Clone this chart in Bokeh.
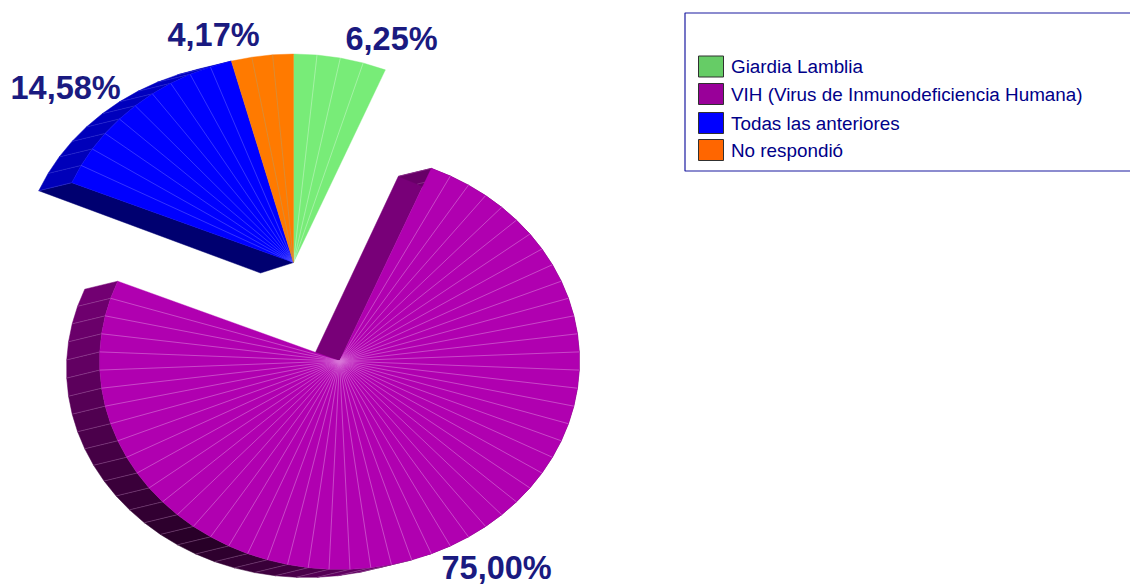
import numpy as np
from bokeh.plotting import figure
from bokeh.models import Range1d
from bokeh.core.properties import value
from bokeh.embed import file_html
from bokeh.resources import INLINE

# ---- data ----
categories = ["Giardia Lamblia", "VIH (Virus de Inmunodeficiencia Humana)", "Todas las anteriores", "No respondió"]
percentages = [6.25, 75.00, 14.58, 4.17]
percent_labels = ["6,25%", "75,00%", "14,58%", "4,17%"]

# ---- style / layout ----
W, H = 1130, 586
top_colors = ["#78ec78", "#b000b0", "#0000ff", "#ff7a00"]
legend_colors = ["#66cc66", "#990099", "#0000ff", "#ff6600"]
line_colors = ["#c4f6c4", "#d878d8", "#5858ff", "#c09858"]
wedge_wall = ["#50a050", "#780078", "#000070", "#b05000"]
wall_base = [(120, 236, 120), (176, 0, 176), (0, 0, 280), (255, 122, 0)]
rim_line = ["#ffffff", "#c080c0", "#5050e0", "#ffffff"]
slice_counts = [4, 54, 10, 3]
exploded = [True, False, True, True]
has_wall = [False, True, True, False]
label_pos = [(345, 38), (441, 567), (10, 87), (167, 34)]
RX, RY = 240.0, 208.5
DX, DY = -33.0, 8.0
APEX_DY = 10.5
C_EXPLODED = (293.0, 262.0)
C_MAIN = (339.0, 360.5)
shade_deg = [0, 175, 190, 212, 240, 270, 292.5, 360]
shade_fac = [.60, .55, .36, .22, .36, .56, .66, .70]

p = figure(width=W, height=H, output_backend="svg", toolbar_location=None,
           x_range=Range1d(0, W), y_range=Range1d(H, 0),
           min_border=0, outline_line_color=None, background_fill_color="white",
           border_fill_color="white")
p.axis.visible = False
p.grid.visible = False


def rim(c, deg):
    t = np.radians(deg)
    return c[0] + RX * np.sin(t), c[1] - RY * np.cos(t)


start = 0.0
wedges = []
for pct, n, ex, wallon, top, line, wall, base, rl in zip(percentages, slice_counts, exploded, has_wall,
                                                        top_colors, line_colors, wedge_wall, wall_base, rim_line):
    end = start + pct * 3.6
    wedges.append((start, end, n, C_EXPLODED if ex else C_MAIN, wallon, top, line, wall, base, rl))
    start = end

# walls first: back face of the wedge cut, then the outer rim
for s, e, n, c, wallon, top, line, wall, base, rl in wedges:
    if not wallon:
        continue
    ex_, ey_ = rim(c, s)
    p.patch([c[0], ex_, ex_ + DX, c[0] + DX], [c[1], ey_, ey_ + DY, c[1] + APEX_DY],
            fill_color=wall, line_color=wall, line_width=0.5)
    ang = np.linspace(s, e, n + 1)
    for a0, a1 in zip(ang[:-1], ang[1:]):
        x0, y0 = rim(c, a0)
        x1, y1 = rim(c, a1)
        f = float(np.interp((a0 + a1) / 2, shade_deg, shade_fac))
        col = "#%02x%02x%02x" % tuple(min(255, int(v * f)) for v in base)
        p.patch([x0, x1, x1 + DX, x0 + DX], [y0, y1, y1 + DY, y0 + DY],
                fill_color=col, line_color=col, line_width=0.5)
        p.line([x0, x0 + DX], [y0, y0 + DY], line_color=rl, line_alpha=.55, line_width=.6)

# top faces
for s, e, n, c, wallon, top, line, wall, base, rl in wedges:
    ang = np.linspace(s, e, n + 1)
    xs, ys = rim(c, ang)
    p.patch([c[0], *xs], [c[1], *ys], fill_color=top, line_color=top, line_width=0.4)
    for x, y in zip(xs[1:-1], ys[1:-1]):
        p.line([c[0], x], [c[1], y], line_color=line, line_alpha=.85, line_width=.7)

# percent labels
p.text([q[0] for q in label_pos], [q[1] for q in label_pos], text=percent_labels,
       text_font=value("Liberation Sans"), text_font_style="bold", text_font_size="32.5px",
       text_color="#1a1a80", text_align="left", text_baseline="middle")

# legend
p.quad(left=[684.5], right=[1200], top=[12.5], bottom=[170.5], fill_color="white",
       line_color="#1a1aa0", line_width=1.2)
legend_y = [66, 93.5, 122.5, 149.5]
p.rect([710.5] * 4, legend_y, width=25, height=21, fill_color=legend_colors,
       line_color="#303030", line_width=1)
p.text([730.5] * 4, legend_y, text=categories,
       text_font=value("Liberation Sans"), text_font_size="18.85px", text_color="#000088",
       text_align="left", text_baseline="middle")

open("out.html", "w").write(file_html(p, INLINE))
